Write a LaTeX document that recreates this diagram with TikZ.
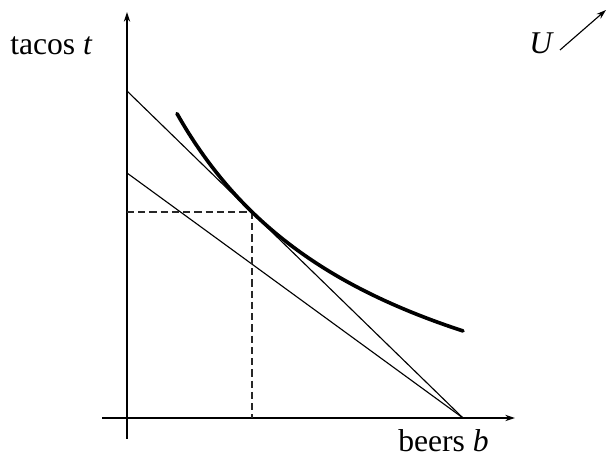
\documentclass[tikz,border=0pt]{standalone}
\usepackage{fontspec}
\setmainfont{Liberation Serif}
\usepackage{tikz}
\usepackage{xcolor}
\usetikzlibrary{arrows.meta,calc}
\definecolor{inkblack}{RGB}{0,0,0}
\definecolor{guidegray}{RGB}{40,40,40}

\begin{document}
\begin{tikzpicture}[
    x=0.025cm, y=0.025cm,
    axis/.style={draw=inkblack, line width=0.9pt, -{Stealth[length=7pt, width=4.5pt]}},
    budget/.style={draw=inkblack, line width=0.8pt},
    indiff/.style={draw=inkblack, line width=2.6pt, line cap=round},
    guide/.style={draw=guidegray, line width=0.8pt, dash pattern=on 5pt off 3pt},
    lab/.style={inner sep=0pt, font=\fontsize{22.5}{27}\selectfont}
]

% Frame
\useasboundingbox (0,0) rectangle (608,459);

% Key points
\coordinate (ybot) at (127,20);
\coordinate (ytop) at (127,447);
\coordinate (xleft) at (102,41);
\coordinate (xright) at (515,41);
\coordinate (hi) at (127,368);
\coordinate (lo) at (127,286);
\coordinate (bmax) at (463,41);
\coordinate (E) at (252,247);
\coordinate (Ex) at (252,41);
\coordinate (Ey) at (127,247);
\coordinate (uA) at (560,409);
\coordinate (uB) at (606,449);

% 1. AXES
\draw[axis] (ybot) -- (ytop);
\draw[axis] (xleft) -- (xright);

% Labels
\node[lab, anchor=base west] (tlab) at (10,404) {tacos \textit{t}};
\node[lab, anchor=base west] (blab) at (398,7) {beers \textit{b}};
\node[lab, anchor=base west] (ulab) at (529,405) {\textit{U}};

% 2. BUDGET LINES
\draw[budget] (hi) -- (bmax);
\draw[budget] (lo) -- (bmax);

% 3. OPTIMUM GUIDES
\draw[guide] (Ey) -- (E);
\draw[guide] (E) -- (Ex);

% 4. INDIFFERENCE CURVE (hyperbola touching the upper budget line at E)
\draw[indiff] plot[domain=177:463, samples=60, smooth] (\x, {-36.1 + 823.95/((\x+39)/100)});

% Direction of higher utility
\draw[axis, line width=0.8pt] (uA) -- (uB);

\end{tikzpicture}
\end{document}
